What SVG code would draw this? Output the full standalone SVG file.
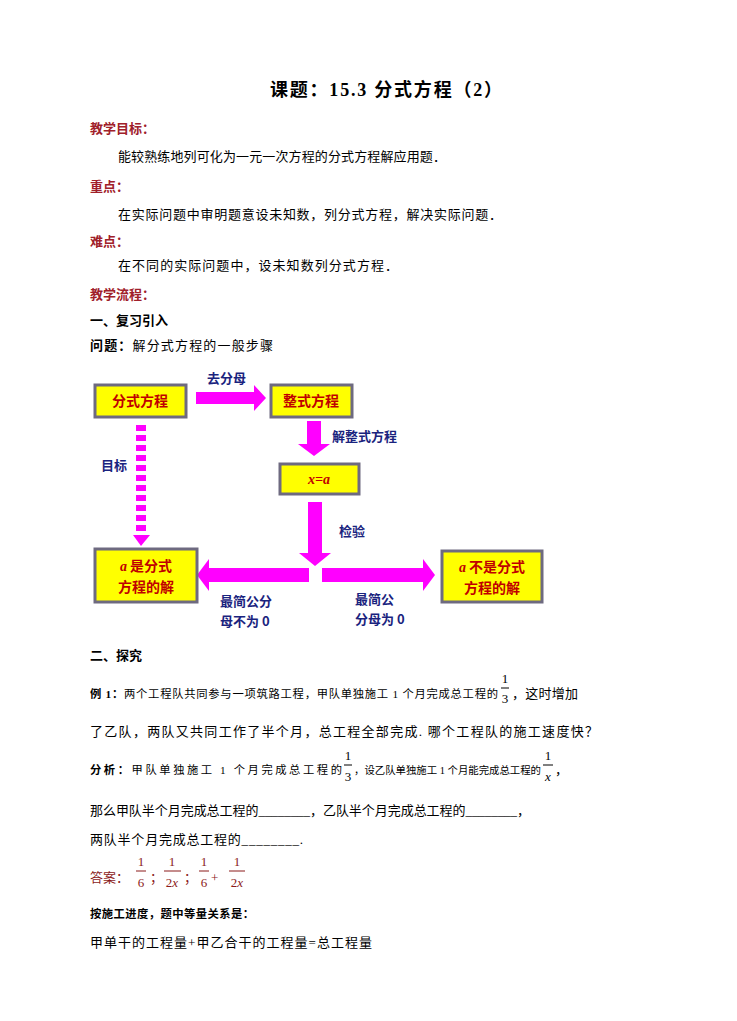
<svg xmlns="http://www.w3.org/2000/svg" width="737" height="1021" viewBox="0 0 737 1021">
<style>
text{font-family:"Liberation Serif","Noto Sans CJK SC",serif;font-size:13px;fill:#000}
.h{font-weight:bold;fill:#A0202A}
.b{font-weight:bold}
.s{font-size:11.3px}
.lbl{font-family:"Noto Sans CJK SC",sans-serif;font-weight:bold;fill:#1A237E;font-size:13px}
.box{fill:#FFFF00;stroke:#6E6A80;stroke-width:3}
.bt{font-family:"Noto Sans CJK SC",sans-serif;font-weight:bold;fill:#C00000;font-size:14px}
.ar{fill:#FF00FF}
.m{fill:#8B1A1A}
</style>
<rect width="737" height="1021" fill="#fff"/>
<text x="270" y="96" class="b" style="font-size:18px" textLength="232" lengthAdjust="spacing">课题：15.3 分式方程（2）</text>
<text x="90" y="133" class="h">教学目标：</text>
<text x="118" y="161" textLength="328" lengthAdjust="spacing">能较熟练地列可化为一元一次方程的分式方程解应用题．</text>
<text x="90" y="191" class="h">重点：</text>
<text x="118" y="219" textLength="384" lengthAdjust="spacing">在实际问题中审明题意设未知数，列分式方程，解决实际问题．</text>
<text x="90" y="246" class="h">难点：</text>
<text x="118" y="270" textLength="280" lengthAdjust="spacing">在不同的实际问题中，设未知数列分式方程．</text>
<text x="90" y="299" class="h">教学流程：</text>
<text x="90" y="325" class="b">一、复习引入</text>
<text x="90" y="350" textLength="183" lengthAdjust="spacing"><tspan class="b">问题：</tspan>解分式方程的一般步骤</text>
<g id="connectors">
<path class="ar" d="M196 392H254V385L266 398L254 411V404H196Z"/>
<path class="ar" d="M307 421H321V444H330L314 456L298 444H307Z"/>
<path class="ar" d="M308 502H322V553H331L315 566L299 553H308Z"/>
<g class="ar"><rect x="136" y="425" width="10" height="6"/><rect x="136" y="435" width="10" height="6"/><rect x="136" y="445" width="10" height="6"/><rect x="136" y="455" width="10" height="6"/><rect x="136" y="465" width="10" height="6"/><rect x="136" y="475" width="10" height="6"/><rect x="136" y="485" width="10" height="6"/><rect x="136" y="495" width="10" height="6"/><rect x="136" y="505" width="10" height="6"/><rect x="136" y="515" width="10" height="6"/><rect x="136" y="525" width="10" height="6"/></g>
<path class="ar" d="M133 535H150L141 546Z"/>
<path class="ar" d="M309 568H209V559L197 575L209 591V582H309Z"/>
<path class="ar" d="M322 568H423V559L435 575L423 591V582H322Z"/>
<text x="207" y="383" class="lbl">去分母</text>
<text x="332" y="441" class="lbl">解整式方程</text>
<text x="339" y="536" class="lbl">检验</text>
<text x="101" y="470" class="lbl">目标</text>
<text x="220" y="606" class="lbl">最简公分</text>
<text x="220" y="626" class="lbl">母不为 0</text>
<text x="355" y="604" class="lbl">最简公</text>
<text x="355" y="624" class="lbl">分母为 0</text>
</g>
<g id="n1"><rect class="box" x="95" y="385" width="91" height="32"/><text x="140" y="406" class="bt" text-anchor="middle">分式方程</text></g>
<g id="n2"><rect class="box" x="271" y="385" width="81" height="32"/><text x="311" y="406" class="bt" text-anchor="middle">整式方程</text></g>
<g id="n3"><rect class="box" x="280" y="464" width="79" height="30"/><text x="319" y="484" class="bt" text-anchor="middle" style="font-family:'Liberation Serif',serif;font-style:italic">x=a</text></g>
<g id="n4"><rect class="box" x="95" y="549" width="102" height="53"/><text x="146" y="571" class="bt" text-anchor="middle"><tspan style="font-family:'Liberation Serif',serif;font-style:italic">a</tspan> 是分式</text><text x="146" y="592" class="bt" text-anchor="middle">方程的解</text></g>
<g id="n5"><rect class="box" x="442" y="551" width="100" height="51"/><text x="492" y="572" class="bt" text-anchor="middle"><tspan style="font-family:'Liberation Serif',serif;font-style:italic">a</tspan> 不是分式</text><text x="492" y="593" class="bt" text-anchor="middle">方程的解</text></g>
<text x="90" y="660" class="b">二、探究</text>
<text x="90" y="698" class="s" textLength="408" lengthAdjust="spacing"><tspan class="b">例 1：</tspan>两个工程队共同参与一项筑路工程，甲队单独施工 1 个月完成总工程的</text>
<text x="505" y="683" text-anchor="middle">1</text><line x1="501" y1="688" x2="509" y2="688" stroke="#000"/><text x="505" y="703" text-anchor="middle">3</text>
<text x="512" y="698" textLength="66" lengthAdjust="spacing">，这时增加</text>
<text x="90" y="736" textLength="508" lengthAdjust="spacing">了乙队，两队又共同工作了半个月，总工程全部完成. 哪个工程队的施工速度快？</text>
<text x="90" y="774" class="s" textLength="252" lengthAdjust="spacing"><tspan class="b">分析：</tspan>甲队单独施工 1 个月完成总工程的</text>
<text x="348" y="760" text-anchor="middle">1</text><line x1="344" y1="765" x2="352" y2="765" stroke="#000"/><text x="348" y="781" text-anchor="middle">3</text>
<text x="354" y="774" style="font-size:10.4px" textLength="187" lengthAdjust="spacing">，设乙队单独施工 1 个月能完成总工程的</text>
<text x="548" y="760" text-anchor="middle">1</text><line x1="543" y1="765" x2="553" y2="765" stroke="#000"/><text x="548" y="781" text-anchor="middle" font-style="italic">x</text>
<text x="555" y="774">，</text>
<text x="90" y="815" textLength="440" lengthAdjust="spacing">那么甲队半个月完成总工程的________，乙队半个月完成总工程的________，</text>
<text x="90" y="844" textLength="213" lengthAdjust="spacing">两队半个月完成总工程的________.</text>
<text x="90" y="882" class="m">答案：</text>
<g class="m">
<text x="141" y="866" text-anchor="middle" class="m">1</text><line x1="136" y1="871" x2="146" y2="871" stroke="#8B1A1A"/><text x="141" y="887" text-anchor="middle" class="m">6</text>
<text x="150" y="882" class="m">；</text>
<text x="172" y="866" text-anchor="middle" class="m">1</text><line x1="164" y1="871" x2="181" y2="871" stroke="#8B1A1A"/><text x="172" y="887" text-anchor="middle" class="m">2<tspan font-style="italic">x</tspan></text>
<text x="184" y="882" class="m">；</text>
<text x="204" y="866" text-anchor="middle" class="m">1</text><line x1="199" y1="871" x2="209" y2="871" stroke="#8B1A1A"/><text x="204" y="887" text-anchor="middle" class="m">6</text>
<text x="211" y="882" class="m">+</text>
<text x="237" y="866" text-anchor="middle" class="m">1</text><line x1="229" y1="871" x2="245" y2="871" stroke="#8B1A1A"/><text x="237" y="887" text-anchor="middle" class="m">2<tspan font-style="italic">x</tspan></text>
</g>
<text x="90" y="918" class="b s" textLength="164" lengthAdjust="spacing">按施工进度，题中等量关系是：</text>
<text x="90" y="947" textLength="282" lengthAdjust="spacing">甲单干的工程量+甲乙合干的工程量=总工程量</text>
</svg>
